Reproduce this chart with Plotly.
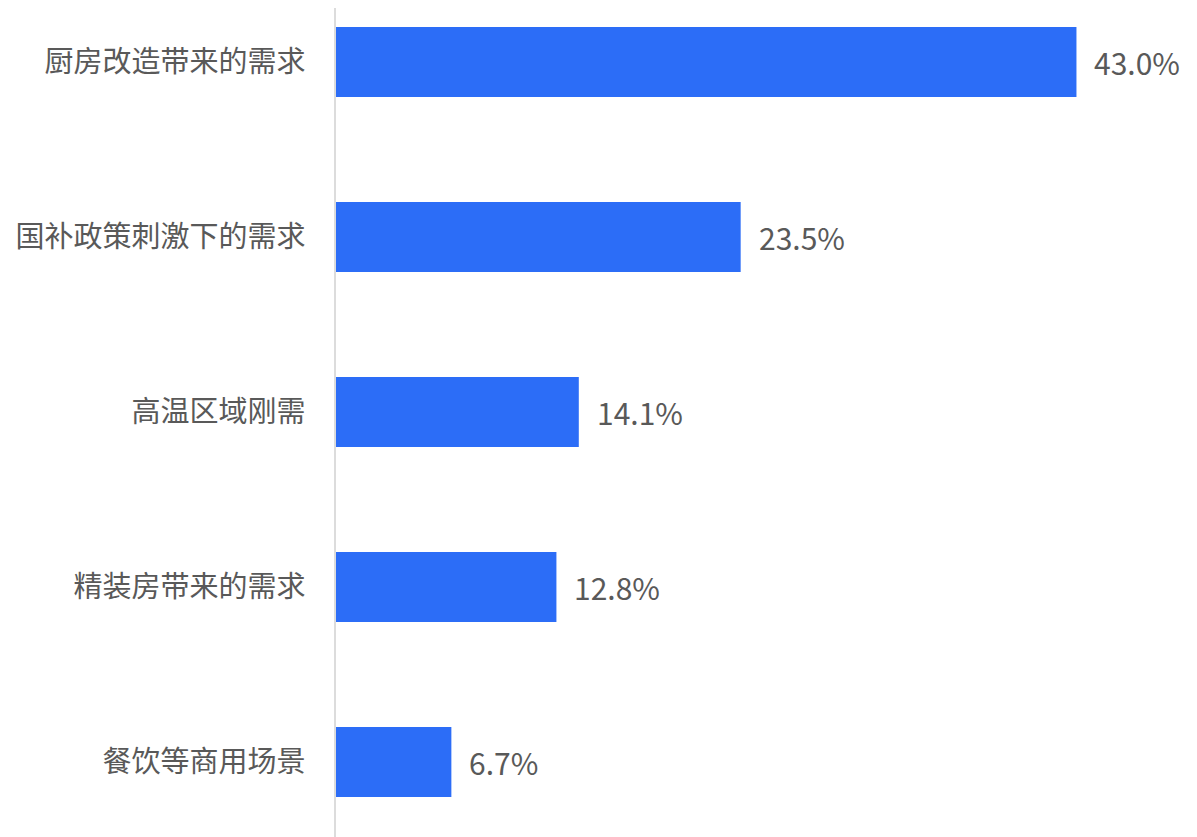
import plotly.graph_objects as go

categories = ["厨房改造带来的需求", "国补政策刺激下的需求", "高温区域刚需", "精装房带来的需求", "餐饮等商用场景"]
shares = [43.0, 23.5, 14.1, 12.8, 6.7]
share_labels = ["43.0%", "23.5%", "14.1%", "12.8%", "6.7%"]

font_family = "Noto Sans CJK SC"
text_color = "#595959"

fig = go.Figure(go.Bar(
    x=shares,
    y=categories,
    orientation="h",
    marker=dict(color="#2C6DF7", line=dict(width=0)),
    width=0.4,
    hoverinfo="skip",
))

# value labels to the right of each bar
for cat, val, lab in zip(categories, shares, share_labels):
    fig.add_annotation(x=val, y=cat, text=lab, showarrow=False, xanchor="left",
                       xshift=16, font=dict(family=font_family, size=30, color=text_color))

# page has an 8px body margin, so the figure is a bit smaller than the window
fig.update_layout(
    width=1189,
    height=829,
    margin=dict(l=328, r=0, t=0, b=0),
    plot_bgcolor="white",
    paper_bgcolor="white",
    showlegend=False,
    font=dict(family=font_family, size=30, color=text_color),
)
fig.update_xaxes(range=[0, 50], showgrid=False, zeroline=False, showticklabels=False,
                 showline=False, fixedrange=True, automargin=False)
fig.update_yaxes(range=[4.429, -0.309], showgrid=False, zeroline=False, showline=True,
                 linecolor="#dcdcdc", linewidth=1.5, ticks="", ticklabelstandoff=23,
                 automargin=False,
                 tickfont=dict(family=font_family, size=29, color=text_color))

fig.write_html("out.html")
